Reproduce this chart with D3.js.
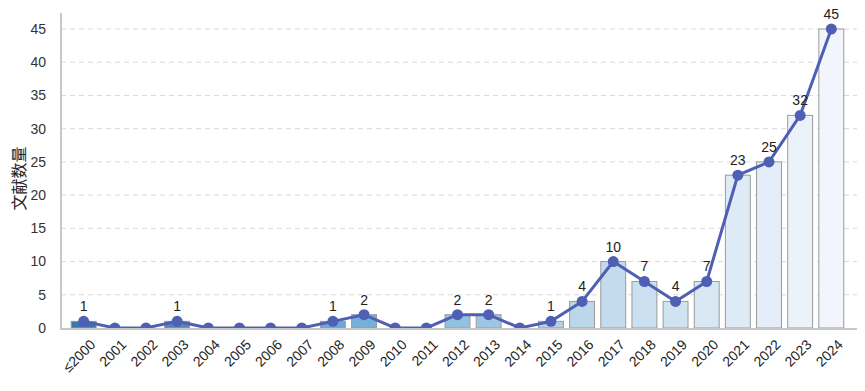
<!DOCTYPE html>
<html>
<head>
<meta charset="utf-8">
<script src="https://cdn.jsdelivr.net/npm/d3@7"></script>
<style>
  body { margin: 0; background: #fff; }
  svg { font-family: "Liberation Sans", Arial, sans-serif; }
</style>
</head>
<body>
<div id="chart"></div>
<script>
const years = ['≤2000', '2001', '2002', '2003', '2004', '2005', '2006', '2007', '2008', '2009',
    '2010', '2011', '2012', '2013', '2014', '2015', '2016', '2017', '2018', '2019',
    '2020', '2021', '2022', '2023', '2024'];
const counts = [1, 0, 0, 1, 0, 0, 0, 0, 1, 2, 0, 0, 2, 2, 0, 1, 4, 10, 7, 4, 7, 23, 25, 32, 45];
const yTicks = [0, 5, 10, 15, 20, 25, 30, 35, 40, 45];
const yLabel = '文献数量';

const width = 865, height = 391;
const margin = { left: 61, right: 8, top: 29, bottom: 63 };
const plotRight = width - margin.right;
const plotBottom = 328;

const svg = d3.select('#chart')
    .append('svg')
    .attr('width', width)
    .attr('height', height);

const x = d3.scaleBand()
    .domain(years)
    .range([65, 850])
    .padding(0.2);

const y = d3.scaleLinear()
    .domain([0, 45])
    .range([plotBottom, margin.top]);

const barColor = d3.scaleLinear()
    .domain([0, 8, 16, 24])
    .range(['#3d74aa', '#6aaad8', '#bcd7ea', '#f2f6fc']);

// gridlines
svg.append('g')
    .selectAll('line')
    .data(yTicks.filter(d => d > 0))
    .join('line')
    .attr('x1', margin.left)
    .attr('x2', plotRight)
    .attr('y1', d => y(d))
    .attr('y2', d => y(d))
    .attr('stroke', '#d9d9d9')
    .attr('stroke-dasharray', '5,4');

// y tick labels
svg.append('g')
    .selectAll('text')
    .data(yTicks)
    .join('text')
    .attr('x', 46)
    .attr('y', d => y(d))
    .attr('dy', '0.35em')
    .attr('text-anchor', 'end')
    .attr('font-size', 14)
    .attr('fill', '#333')
    .text(d => d);

// y axis title
svg.append('text')
    .attr('transform', `translate(19,${(margin.top + plotBottom) / 2}) rotate(-90)`)
    .attr('text-anchor', 'middle')
    .attr('dy', '0.35em')
    .attr('font-family', '"Noto Sans CJK SC", sans-serif')
    .attr('font-size', 16)
    .attr('fill', '#222')
    .text(yLabel);

svg.append('clipPath')
    .attr('id', 'plot-clip')
    .append('rect')
    .attr('x', margin.left)
    .attr('y', 0)
    .attr('width', plotRight - margin.left)
    .attr('height', plotBottom);

// bars
svg.append('g')
    .selectAll('rect')
    .data(counts)
    .join('rect')
    .attr('x', (d, i) => x(years[i]))
    .attr('y', d => y(d))
    .attr('width', x.bandwidth())
    .attr('height', d => y(0) - y(d))
    .attr('fill', (d, i) => barColor(i))
    .attr('stroke', '#9a9a9a')
    .attr('stroke-width', 1);

// line + points
const cx = (d, i) => x(years[i]) + x.bandwidth() / 2;
const lineGroup = svg.append('g').attr('clip-path', 'url(#plot-clip)');

lineGroup.append('path')
    .datum(counts)
    .attr('fill', 'none')
    .attr('stroke', '#4f5fb3')
    .attr('stroke-width', 3)
    .attr('d', d3.line().x(cx).y(d => y(d)));

lineGroup.selectAll('circle')
    .data(counts)
    .join('circle')
    .attr('cx', cx)
    .attr('cy', d => y(d))
    .attr('r', 5.5)
    .attr('fill', '#4f5fb3');

// value labels
svg.append('g')
    .selectAll('text')
    .data(counts.map((d, i) => ({ v: d, i })).filter(d => d.v > 0))
    .join('text')
    .attr('x', d => cx(d.v, d.i))
    .attr('y', d => y(d.v) - 10)
    .attr('text-anchor', 'middle')
    .attr('font-size', 14)
    .attr('fill', '#222')
    .text(d => d.v);

// axes lines
svg.append('line')
    .attr('x1', margin.left)
    .attr('x2', plotRight)
    .attr('y1', plotBottom + 1)
    .attr('y2', plotBottom + 1)
    .attr('stroke', '#c8c8c8')
    .attr('stroke-width', 2);

svg.append('line')
    .attr('x1', margin.left)
    .attr('x2', margin.left)
    .attr('y1', 13)
    .attr('y2', plotBottom + 2)
    .attr('stroke', '#c8c8c8')
    .attr('stroke-width', 2);

// x tick labels
svg.append('g')
    .selectAll('text')
    .data(years)
    .join('text')
    .attr('transform', d => `translate(${x(d) + x.bandwidth() / 2 + 9},${plotBottom + 14}) rotate(-45)`)
    .attr('text-anchor', 'end')
    .attr('dy', '0.35em')
    .attr('font-size', 14)
    .attr('fill', '#222')
    .text(d => d);
</script>
</body>
</html>
